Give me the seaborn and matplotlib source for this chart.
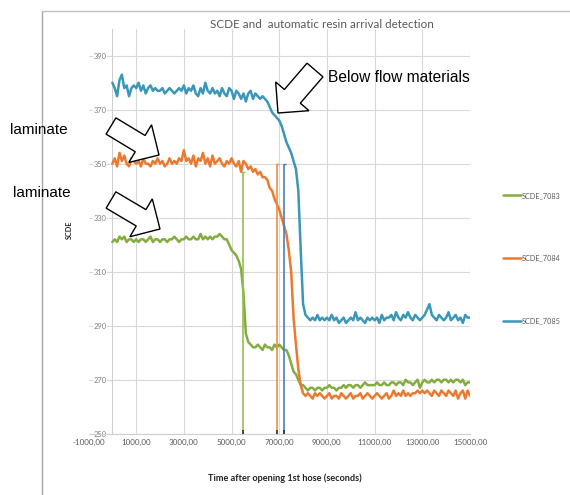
import matplotlib
matplotlib.use("Agg")
import matplotlib.pyplot as plt
import seaborn as sns
import pandas as pd
from matplotlib.patches import FancyArrow
from matplotlib.lines import Line2D

# ---------------- data ----------------
time_s = list(range(0, 15001, 100))

scde_7083 = [
    321, 322, 321, 323, 322, 323, 321, 322, 322, 321,
    322, 321, 322, 322, 321, 322, 323, 321, 322, 322,
    321, 322, 322, 321, 322, 322, 323, 322, 321, 322,
    322, 323, 322, 322, 323, 322, 322, 324, 322, 323,
    322, 323, 322, 323, 323, 324, 323, 322, 322, 320,
    318, 317, 316, 314, 311, 302, 287, 284, 283, 282,
    282, 283, 282, 281, 283, 282, 282, 281, 283, 282,
    283, 282, 281, 281, 279, 276, 273, 272, 270, 268,
    268, 267, 266, 267, 267, 266, 267, 267, 266, 267,
    267, 268, 267, 267, 266, 267, 267, 268, 267, 268,
    268, 267, 268, 268, 267, 268, 269, 268, 268, 268,
    268, 269, 268, 268, 269, 268, 268, 269, 269, 268,
    269, 269, 268, 270, 269, 269, 268, 269, 270, 267,
    269, 270, 269, 269, 270, 269, 270, 270, 269, 270,
    270, 269, 270, 269, 270, 270, 269, 270, 268, 269,
    269,
]

scde_7084 = [
    350, 352, 349, 354, 351, 353, 350, 349, 352, 351,
    350, 351, 349, 352, 350, 350, 349, 351, 350, 352,
    350, 351, 349, 350, 352, 350, 351, 350, 352, 351,
    355, 351, 352, 350, 353, 349, 352, 351, 354, 350,
    352, 349, 353, 350, 351, 352, 350, 349, 351, 350,
    352, 350, 349, 351, 347, 351, 350, 348, 349, 347,
    348, 346, 347, 345, 345, 344, 341, 340, 337, 335,
    333, 330, 327, 324, 318, 310, 293, 283, 274, 268,
    265, 264, 265, 264, 263, 265, 264, 265, 264, 263,
    264, 265, 263, 264, 264, 263, 265, 264, 263, 264,
    265, 263, 264, 264, 265, 263, 264, 265, 264, 263,
    264, 265, 264, 263, 264, 265, 263, 264, 266, 264,
    265, 264, 266, 264, 265, 264, 265, 265, 266, 265,
    266, 265, 266, 265, 264, 266, 265, 264, 266, 265,
    264, 266, 265, 264, 266, 263, 265, 266, 263, 266,
    264,
]

scde_7085 = [
    380, 378, 375, 381, 383, 378, 379, 375, 378, 379,
    378, 380, 377, 379, 376, 378, 379, 377, 378, 377,
    377, 378, 376, 377, 378, 377, 376, 377, 378, 377,
    379, 376, 378, 377, 379, 376, 375, 378, 376, 380,
    377, 376, 378, 376, 377, 375, 378, 376, 375, 378,
    377, 374, 377, 376, 374, 376, 373, 376, 377, 374,
    376, 375, 374, 375, 374, 373, 371, 369, 368, 367,
    366, 364, 361, 358, 356, 354, 351, 348, 340, 318,
    298, 294, 293, 292, 293, 292, 294, 292, 293, 292,
    293, 292, 294, 292, 293, 291, 292, 293, 291, 292,
    293, 292, 295, 292, 293, 292, 291, 293, 292, 293,
    292, 293, 291, 294, 292, 293, 293, 294, 292, 295,
    293, 292, 294, 293, 295, 293, 292, 294, 293, 292,
    293, 294, 296, 298, 294, 293, 292, 294, 293, 292,
    293, 295, 292, 293, 294, 292, 293, 291, 294, 293,
    293,
]

series_names = ["SCDE_7083", "SCDE_7084", "SCDE_7085"]
series_colors = ["#84AC3F", "#EA7A30", "#3A97B8"]

# automatic resin arrival detection markers
arrival_x = [5490, 6920, 7210]
arrival_top = [347, 350, 350]
arrival_colors = ["#92C050", "#F08C45", "#4A7DC6"]

x_ticks = [-1000, 1000, 3000, 5000, 7000, 9000, 11000, 13000, 15000]
y_ticks = [250, 270, 290, 310, 330, 350, 370, 390]

# ---------------- figure ----------------
sns.set_style("white")
plt.rcParams["font.family"] = ["Lato", "DejaVu Sans"]

W, H = 570, 495
fig = plt.figure(figsize=(W / 100, H / 100), dpi=100)
ax = fig.add_axes([88.5 / W, 1 - 433.7 / H, (470 - 88.5) / W, (433.7 - 28.7) / H])

df = pd.DataFrame({
    "time": time_s * 3,
    "SCDE": scde_7083 + scde_7084 + scde_7085,
    "sensor": [n for n in series_names for _ in time_s],
})

sns.lineplot(data=df, x="time", y="SCDE", hue="sensor",
             palette=dict(zip(series_names, series_colors)),
             linewidth=1.8, ax=ax, legend=False, zorder=3)

for mx, top, c in zip(arrival_x, arrival_top, arrival_colors):
    ax.vlines(mx, y_ticks[0], top, color=c, lw=1.2, zorder=4)
    ax.hlines(top, mx - 70, mx + 70, color=c, lw=1.0, zorder=4)
    ax.plot([mx], [y_ticks[0] + 0.8], marker="|", ms=3, color="#333333", mew=1.2, zorder=5)

ax.set_xlim(-1000, 15000)
ax.set_ylim(250, 400)
ax.set_xticks(x_ticks)
ax.set_xticklabels([f"{v:.2f}".replace(".", ",") for v in x_ticks])
ax.set_yticks(y_ticks)
ax.set_yticklabels([str(v) for v in y_ticks])

ax.grid(True, color="#D9D9D9", lw=0.8)
ax.xaxis.get_gridlines()[0].set_visible(False)
ax.set_axisbelow(True)

for s in ["top", "right"]:
    ax.spines[s].set_visible(False)
ax.spines["left"].set_position(("data", 0))
ax.spines["left"].set_color("#CFCFCF")
ax.spines["left"].set_linewidth(0.8)
ax.spines["bottom"].set_color("#CFCFCF")
ax.spines["bottom"].set_linewidth(0.8)

ax.tick_params(axis="x", length=0, pad=4, labelsize=5.8, labelcolor="#595959")
ax.tick_params(axis="y", length=3, width=0.6, color="#BFBFBF", pad=1,
               labelsize=5.4, labelcolor="#7F7F7F")
for lab in ax.get_yticklabels():
    lab.set_bbox(dict(facecolor="white", edgecolor="none", pad=0.3))

ax.set_xlabel("Time after opening 1st hose (seconds)", fontsize=6.6,
              fontweight="bold", color="#222222")
ax.xaxis.set_label_coords(0.515, -0.097)
ax.set_ylabel("SCDE", fontsize=5.2, fontweight="bold", color="#222222")
ax.yaxis.set_label_coords(-0.04, 0.503)

fig.text(322 / W, 1 - 24 / H, "SCDE and  automatic resin arrival detection",
         ha="center", va="center", fontsize=8.4, color="#595959")

handles = [Line2D([0], [0], color=c, lw=1.8) for c in series_colors]
fig.legend(handles, series_names, loc="center left",
           bbox_to_anchor=(499 / W, 1 - 258 / H), frameon=False,
           fontsize=5.2, labelspacing=7.7, handlelength=2.6,
           handletextpad=0.1, borderpad=0, labelcolor="#595959")

# chart-area border (cropped)
fig.add_artist(Line2D([42 / W, 42 / W], [0, 1 - 11 / H], transform=fig.transFigure,
                      color="#A6A6A6", lw=1.0))
fig.add_artist(Line2D([42 / W, 1], [1 - 11 / H, 1 - 11 / H], transform=fig.transFigure,
                      color="#BFBFBF", lw=1.0))

# annotations
ann_font = ["Liberation Sans", "DejaVu Sans"]
fig.text(10 / W, 1 - 130 / H, "laminate", va="center", ha="left",
         fontsize=11, family=ann_font, color="black")
fig.text(13 / W, 1 - 193 / H, "laminate", va="center", ha="left",
         fontsize=11, family=ann_font, color="black")
fig.text(328 / W, 1 - 78 / H, "Below flow materials", va="center", ha="left",
         fontsize=11.2, family=ann_font, color="black")

def block_arrow(tail, tip, width, head_w, head_l):
    x0, y0 = tail[0] / 100, (H - tail[1]) / 100
    x1, y1 = tip[0] / 100, (H - tip[1]) / 100
    arr = FancyArrow(x0, y0, x1 - x0, y1 - y0, width=width / 100,
                     head_width=head_w / 100, head_length=head_l / 100,
                     length_includes_head=True, transform=fig.dpi_scale_trans,
                     facecolor="white", edgecolor="black", lw=1.0, zorder=10)
    fig.add_artist(arr)

block_arrow((111, 126), (159, 155), 19, 44, 22)
block_arrow((111, 200), (160, 229), 19, 44, 22)
block_arrow((315, 70), (278, 113), 21, 44, 22)

fig.savefig("out.png", dpi=100)
